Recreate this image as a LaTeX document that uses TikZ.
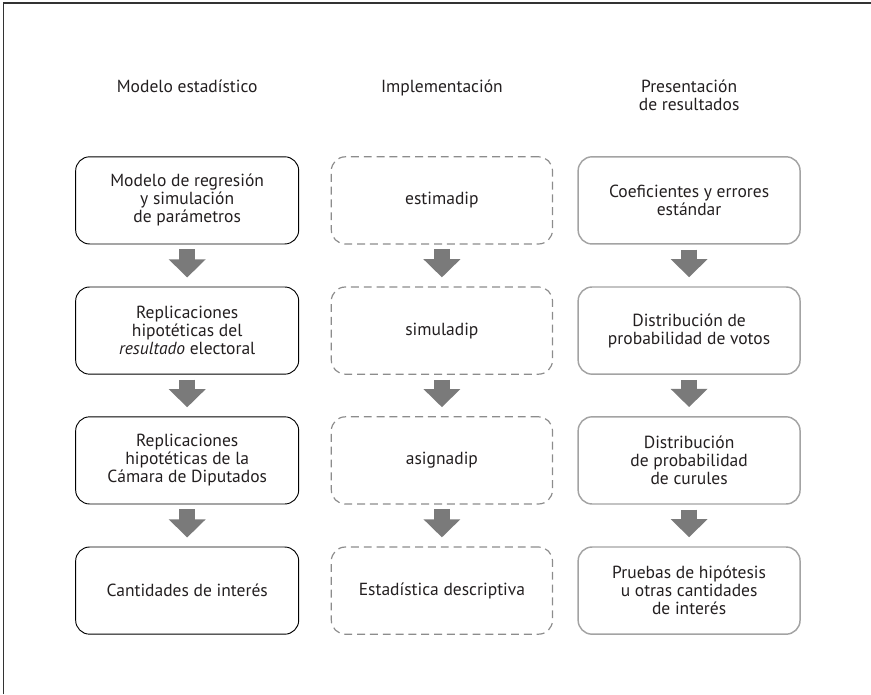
\documentclass[tikz,border=0pt]{standalone}
\usepackage{fontspec}
\setmainfont{PT Sans}
\usetikzlibrary{arrows.meta}
\definecolor{flecha}{HTML}{7A7A7A}
\definecolor{borde}{HTML}{A3A3A3}
\definecolor{guion}{HTML}{8C8C8C}
\definecolor{tinta}{HTML}{231F20}

\begin{document}
\begin{tikzpicture}[
		  every node/.style={font=\fontsize{13.2}{13.6}\selectfont, align=center, text=tinta}
		]

		\tikzset{
		    negro/.style={draw=black, line width=0.7pt, rounded corners=0.37cm, minimum width=5.91cm, minimum height=2.31cm},
		    punteado/.style={draw=guion, line width=0.9pt, dash pattern=on 0.21cm off 0.13cm, rounded corners=0.37cm, minimum width=5.86cm, minimum height=2.31cm},
		    gris/.style={draw=borde, line width=1.1pt, rounded corners=0.37cm, minimum width=5.88cm, minimum height=2.31cm},
		    flechota/.style={draw=flecha, line width=0.42cm, -{Triangle[width=0.95cm, length=0.48cm]}, shorten <=0.13cm, shorten >=0.24cm}
		}

		\useasboundingbox (0,0) rectangle (23.08,-18.39);

		% Marco
		\draw[line width=0.8pt, black!80] (0.1,-18.39) -- (0.1,-0.08) -- (23.08,-0.08);

		% Encabezados
		\node[anchor=north] (t1) at (4.96,-2.0) {Modelo estadístico};
		\node[anchor=north] (t2) at (11.71,-2.0) {Implementación};
		\node[anchor=north] (t3) at (18.26,-2.0) {Presentación\\de resultados};

		% Modelo estadístico
		\node[negro] (m1) at (4.96,-5.31) {Modelo de regresión\\y simulación\\de parámetros};
		\node[negro] (m2) at (4.96,-8.76) {Replicaciones\\hipotéticas del\\\textit{resultado} electoral};
		\node[negro] (m3) at (4.96,-12.20) {Replicaciones\\hipotéticas de la\\Cámara de Diputados};
		\node[negro] (m4) at (4.96,-15.65) {Cantidades de interés};

		% Implementación
		\node[punteado] (i1) at (11.71,-5.31) {estimadip};
		\node[punteado] (i2) at (11.71,-8.76) {simuladip};
		\node[punteado] (i3) at (11.71,-12.20) {asignadip};
		\node[punteado] (i4) at (11.71,-15.65) {Estadística descriptiva};

		% Presentación de resultados
		\node[gris] (p1) at (18.26,-5.31) {Coeficientes y errores\\estándar};
		\node[gris] (p2) at (18.26,-8.76) {Distribución de\\probabilidad de votos};
		\node[gris] (p3) at (18.26,-12.20) {Distribución\\de probabilidad\\de curules};
		\node[gris] (p4) at (18.26,-15.65) {Pruebas de hipótesis\\u otras cantidades\\de interés};

		% Flechas
		\foreach \c in {m,i,p} {
		  \draw[flechota] (\c1) -- (\c2);
		  \draw[flechota] (\c2) -- (\c3);
		  \draw[flechota] (\c3) -- (\c4);
		}

		\end{tikzpicture}
\end{document}
